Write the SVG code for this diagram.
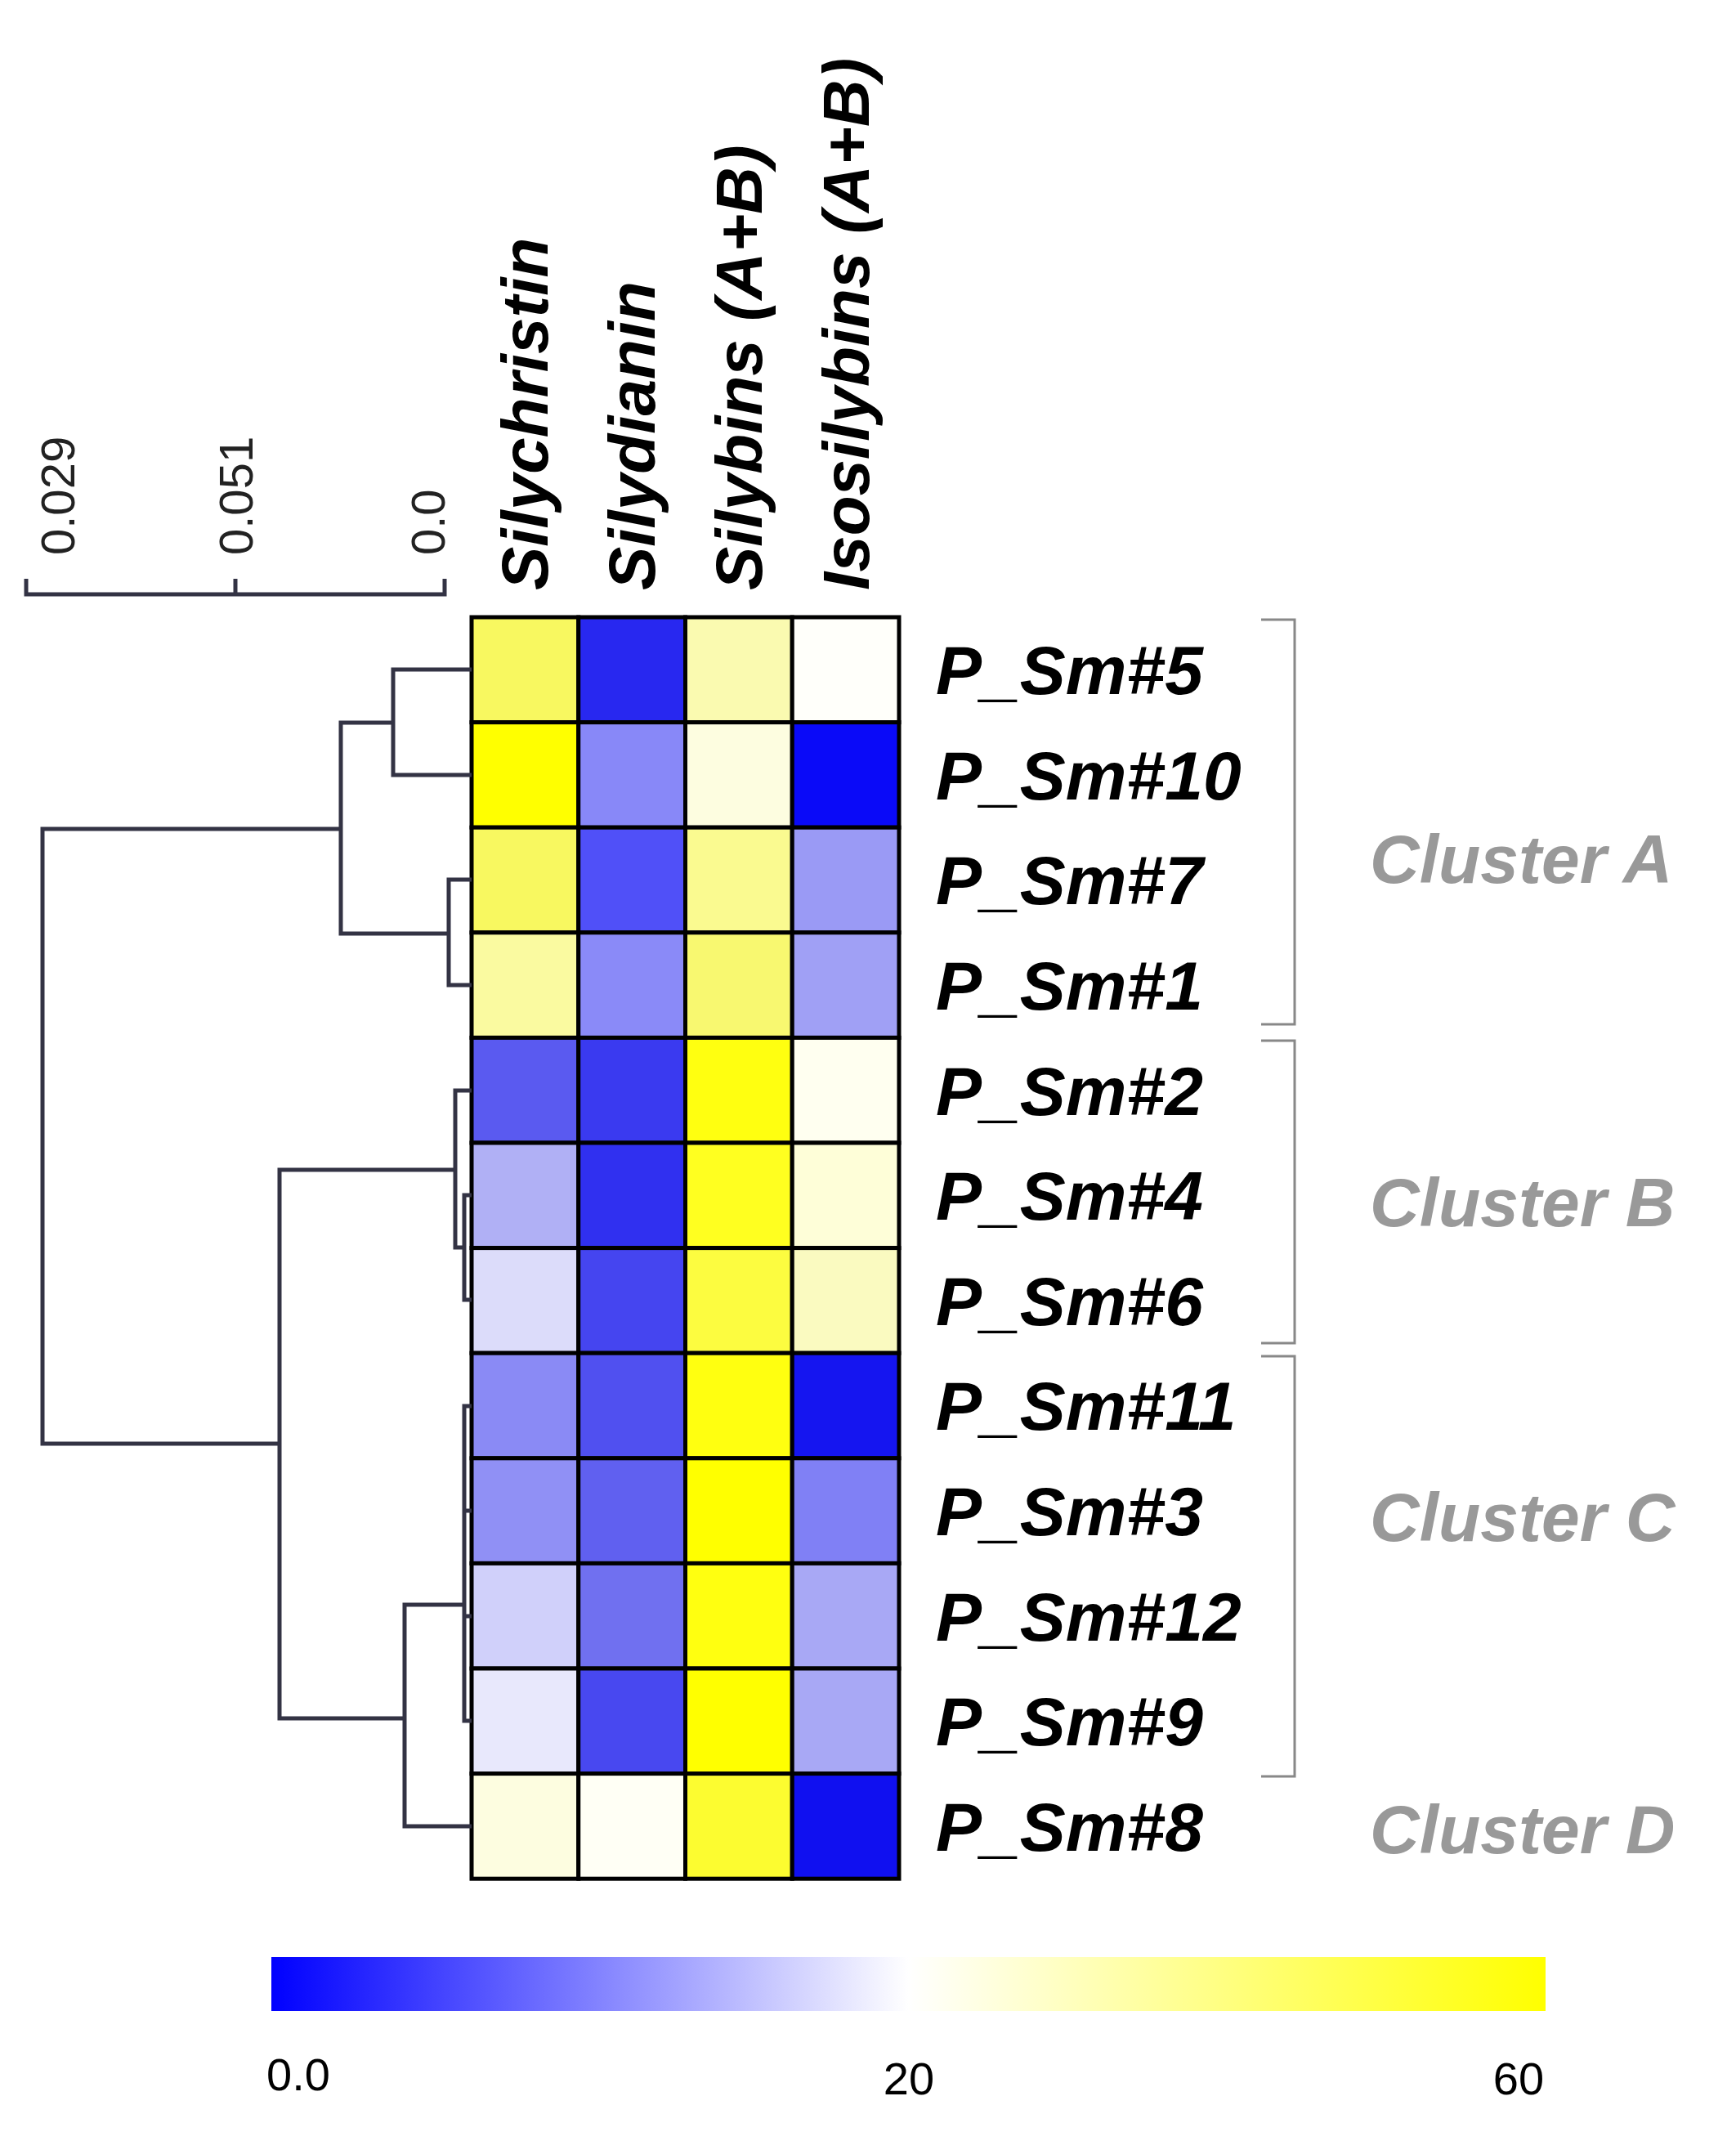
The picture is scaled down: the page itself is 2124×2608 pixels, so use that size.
<svg xmlns="http://www.w3.org/2000/svg" width="2124" height="2608" viewBox="0 0 2124 2608">
<style>
.c{stroke:#000;stroke-width:5}
.d{fill:none;stroke:#333344;stroke-width:5}
.b{fill:none;stroke:#888;stroke-width:3}
.col{font-family:"Liberation Sans",Arial,sans-serif;font-weight:bold;font-style:italic;font-size:80px;fill:#000}
.row{font-family:"Liberation Sans",Arial,sans-serif;font-weight:bold;font-style:italic;font-size:84px;fill:#000}
.cl{font-family:"Liberation Sans",Arial,sans-serif;font-weight:bold;font-style:italic;font-size:84px;fill:#999}
.sc{font-family:"Liberation Sans",Arial,sans-serif;font-size:58px;fill:#222}
.lg{font-family:"Liberation Sans",Arial,sans-serif;font-size:56px;fill:#000;text-anchor:middle}
</style>
<defs>
<linearGradient id="g" x1="0" x2="1" y1="0" y2="0">
<stop offset="0" stop-color="#0000ff"/><stop offset="0.5" stop-color="#ffffff"/><stop offset="1" stop-color="#ffff00"/>
</linearGradient>
</defs>
<rect width="2124" height="2608" fill="#fff"/>
<g id="scale">
<path class="d" d="M32 708V727H544V708M288 708V727"/>
<text class="sc" transform="translate(91 679) rotate(-90)">0.029</text>
<text class="sc" transform="translate(309 679) rotate(-90)">0.051</text>
<text class="sc" transform="translate(544 679) rotate(-90)">0.0</text>
</g>
<g id="columns">
<text class="col" transform="translate(670 722) rotate(-90)">Silychristin</text>
<text class="col" transform="translate(801 722) rotate(-90)">Silydianin</text>
<text class="col" transform="translate(932 722) rotate(-90)">Silybins (A+B)</text>
<text class="col" transform="translate(1063 722) rotate(-90)">Isosilybins (A+B)</text>
</g>
<g id="heatmap">
<rect class="c" x="577" y="755.0" width="130.75" height="128.6" fill="#f8f860"/><rect class="c" x="707.75" y="755.0" width="130.75" height="128.6" fill="#2828f0"/><rect class="c" x="838.5" y="755.0" width="130.75" height="128.6" fill="#fafab0"/><rect class="c" x="969.25" y="755.0" width="130.75" height="128.6" fill="#fffffa"/>
<rect class="c" x="577" y="883.6" width="130.75" height="128.6" fill="#ffff00"/><rect class="c" x="707.75" y="883.6" width="130.75" height="128.6" fill="#8888f8"/><rect class="c" x="838.5" y="883.6" width="130.75" height="128.6" fill="#fdfde0"/><rect class="c" x="969.25" y="883.6" width="130.75" height="128.6" fill="#0a0af8"/>
<rect class="c" x="577" y="1012.2" width="130.75" height="128.6" fill="#f8f860"/><rect class="c" x="707.75" y="1012.2" width="130.75" height="128.6" fill="#5050f8"/><rect class="c" x="838.5" y="1012.2" width="130.75" height="128.6" fill="#fafa90"/><rect class="c" x="969.25" y="1012.2" width="130.75" height="128.6" fill="#9a9af5"/>
<rect class="c" x="577" y="1140.8" width="130.75" height="128.6" fill="#fafaa0"/><rect class="c" x="707.75" y="1140.8" width="130.75" height="128.6" fill="#8a8af8"/><rect class="c" x="838.5" y="1140.8" width="130.75" height="128.6" fill="#f8f870"/><rect class="c" x="969.25" y="1140.8" width="130.75" height="128.6" fill="#a0a0f5"/>
<rect class="c" x="577" y="1269.4" width="130.75" height="128.6" fill="#5a5af0"/><rect class="c" x="707.75" y="1269.4" width="130.75" height="128.6" fill="#3a3af0"/><rect class="c" x="838.5" y="1269.4" width="130.75" height="128.6" fill="#ffff10"/><rect class="c" x="969.25" y="1269.4" width="130.75" height="128.6" fill="#fffff0"/>
<rect class="c" x="577" y="1398.0" width="130.75" height="128.6" fill="#b0b0f5"/><rect class="c" x="707.75" y="1398.0" width="130.75" height="128.6" fill="#3030f0"/><rect class="c" x="838.5" y="1398.0" width="130.75" height="128.6" fill="#ffff20"/><rect class="c" x="969.25" y="1398.0" width="130.75" height="128.6" fill="#fefed8"/>
<rect class="c" x="577" y="1526.6" width="130.75" height="128.6" fill="#dcdcfa"/><rect class="c" x="707.75" y="1526.6" width="130.75" height="128.6" fill="#4545f0"/><rect class="c" x="838.5" y="1526.6" width="130.75" height="128.6" fill="#fcfc40"/><rect class="c" x="969.25" y="1526.6" width="130.75" height="128.6" fill="#fafac0"/>
<rect class="c" x="577" y="1655.2" width="130.75" height="128.6" fill="#8a8af5"/><rect class="c" x="707.75" y="1655.2" width="130.75" height="128.6" fill="#5050f0"/><rect class="c" x="838.5" y="1655.2" width="130.75" height="128.6" fill="#ffff10"/><rect class="c" x="969.25" y="1655.2" width="130.75" height="128.6" fill="#1515f0"/>
<rect class="c" x="577" y="1783.8" width="130.75" height="128.6" fill="#9090f5"/><rect class="c" x="707.75" y="1783.8" width="130.75" height="128.6" fill="#6060f0"/><rect class="c" x="838.5" y="1783.8" width="130.75" height="128.6" fill="#ffff00"/><rect class="c" x="969.25" y="1783.8" width="130.75" height="128.6" fill="#8080f5"/>
<rect class="c" x="577" y="1912.4" width="130.75" height="128.6" fill="#d0d0fa"/><rect class="c" x="707.75" y="1912.4" width="130.75" height="128.6" fill="#7070f0"/><rect class="c" x="838.5" y="1912.4" width="130.75" height="128.6" fill="#ffff10"/><rect class="c" x="969.25" y="1912.4" width="130.75" height="128.6" fill="#a8a8f5"/>
<rect class="c" x="577" y="2041.0" width="130.75" height="128.6" fill="#e8e8fc"/><rect class="c" x="707.75" y="2041.0" width="130.75" height="128.6" fill="#4848f0"/><rect class="c" x="838.5" y="2041.0" width="130.75" height="128.6" fill="#ffff00"/><rect class="c" x="969.25" y="2041.0" width="130.75" height="128.6" fill="#a8a8f5"/>
<rect class="c" x="577" y="2169.6" width="130.75" height="128.6" fill="#fdfde0"/><rect class="c" x="707.75" y="2169.6" width="130.75" height="128.6" fill="#fffff5"/><rect class="c" x="838.5" y="2169.6" width="130.75" height="128.6" fill="#fcfc30"/><rect class="c" x="969.25" y="2169.6" width="130.75" height="128.6" fill="#1010f0"/>
</g>
<g id="rows">
<text class="row" x="1145" y="849">P_Sm#5</text>
<text class="row" x="1145" y="978">P_Sm#10</text>
<text class="row" x="1145" y="1106">P_Sm#7</text>
<text class="row" x="1145" y="1235">P_Sm#1</text>
<text class="row" x="1145" y="1364">P_Sm#2</text>
<text class="row" x="1145" y="1492">P_Sm#4</text>
<text class="row" x="1145" y="1621">P_Sm#6</text>
<text class="row" x="1145" y="1749">P_Sm#11</text>
<text class="row" x="1145" y="1878">P_Sm#3</text>
<text class="row" x="1145" y="2007">P_Sm#12</text>
<text class="row" x="1145" y="2135">P_Sm#9</text>
<text class="row" x="1145" y="2264">P_Sm#8</text>
</g>
<g id="clusters">
<path class="b" d="M1543 758H1584V1253H1543M1543 1273H1584V1643H1543M1543 1659H1584V2173H1543"/>
<text class="cl" x="1676" y="1080">Cluster A</text>
<text class="cl" x="1676" y="1500">Cluster B</text>
<text class="cl" x="1676" y="1885">Cluster C</text>
<text class="cl" x="1676" y="2267">Cluster D</text>
</g>
<g id="connectors">
<path class="d" d="M577 819H481V948H577M481 884H417V1142H549M577 1076H549V1205H577M417 1014H52V1766H342"/>
<path class="d" d="M577 1334H557V1526H568M577 1462H568V1590H577M557 1431H342V2102H495"/>
<path class="d" d="M577 1720H568V2105H577M568 1848H577M568 1977H577M568 1963H495V2234H577"/>
</g>
<g id="legend">
<rect x="332" y="2394" width="1559" height="66" fill="url(#g)"/>
<text class="lg" x="365" y="2557">0.0</text>
<text class="lg" x="1112" y="2562">20</text>
<text class="lg" x="1858" y="2562">60</text>
</g>
</svg>
